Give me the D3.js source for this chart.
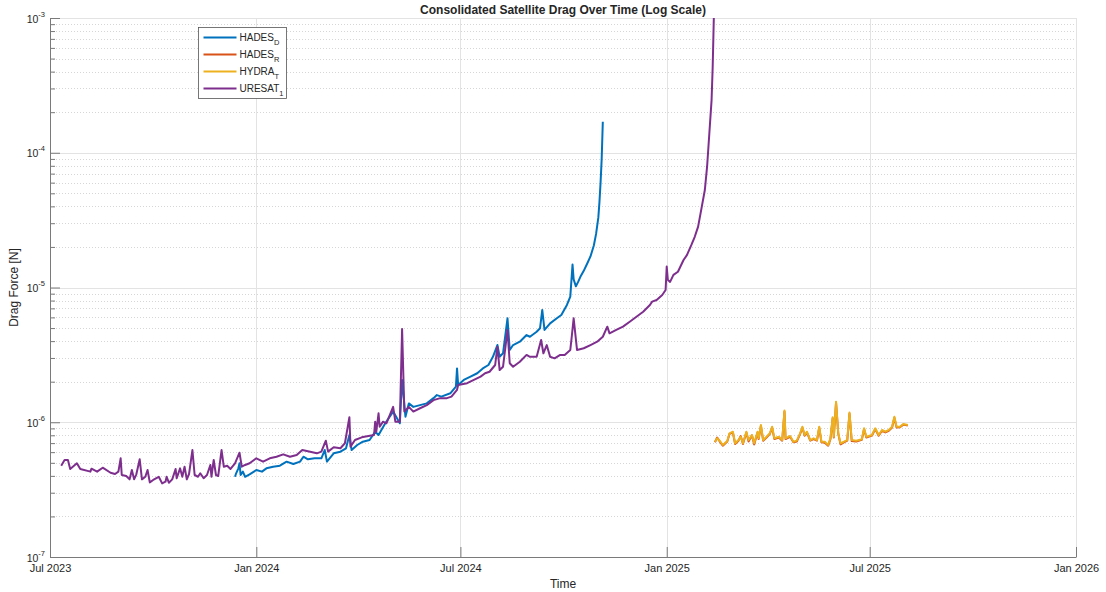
<!DOCTYPE html>
<html lang="en">
<head>
  <meta charset="UTF-8">
  <title>Consolidated Satellite Drag</title>
  <style>
    body { margin: 0; background: #fff; }
    text { font-family: "Liberation Sans", Arial, Helvetica, sans-serif; fill: #262626; }
  </style>
</head>
<body>

  <svg id="svg" width="1106" height="592"></svg>

  <script src="https://d3js.org/d3.v7.min.js"></script>
  <script>

    // days since 1 Jul 2023, and drag force [N]
    const uresatDay = [10, 13, 16, 18, 24, 27, 36, 37, 42, 47, 54, 58, 61, 63, 64, 68, 71, 73, 75, 77,
      80, 82, 85, 87, 89, 92, 97, 100, 103, 104, 106, 109, 112, 113, 116, 118, 120, 122, 124, 127,
      129, 132, 134, 137, 140, 143, 144, 146, 148, 150, 153, 155, 158, 161, 165, 169, 171, 174, 178, 184,
      190, 196, 202, 208, 214, 220, 225, 232, 238, 242, 246, 248, 253, 259, 263, 267, 268, 272, 278, 284,
      289, 290, 291, 293, 294, 297, 300, 306, 308, 312, 314, 316, 320, 324, 330, 336, 342, 348, 354, 358,
      363, 364, 372, 378, 384, 388, 392, 397, 399, 401, 404, 408, 410, 413, 419, 425, 428, 434, 438, 440,
      443, 446, 450, 455, 459, 464, 465, 467, 470, 476, 482, 488, 493, 497, 499, 505, 511, 517, 523, 529,
      535, 537, 541, 546, 549, 550, 551, 553, 556, 560, 565, 568, 572, 575, 578, 581, 584, 586, 588, 590,
      591, 592]
    const uresatDrag = [4.76e-7, 5.25e-7, 5.25e-7, 4.50e-7, 4.96e-7, 4.50e-7, 4.30e-7, 4.52e-7, 4.30e-7, 4.60e-7,
      4.22e-7, 4.13e-7, 4.30e-7, 5.40e-7, 4.06e-7, 3.99e-7, 3.77e-7, 4.42e-7, 3.77e-7, 4.11e-7,
      5.31e-7, 3.77e-7, 3.94e-7, 4.42e-7, 3.58e-7, 3.73e-7, 3.94e-7, 3.52e-7, 3.62e-7, 3.94e-7,
      3.56e-7, 3.77e-7, 4.50e-7, 3.84e-7, 4.55e-7, 3.94e-7, 4.68e-7, 3.77e-7, 4.13e-7, 6.22e-7,
      4.06e-7, 3.94e-7, 4.18e-7, 3.84e-7, 4.06e-7, 4.82e-7, 3.94e-7, 5.25e-7, 4.06e-7, 3.99e-7,
      6.22e-7, 4.68e-7, 4.76e-7, 4.50e-7, 4.96e-7, 5.94e-7, 4.68e-7, 4.82e-7, 4.96e-7, 5.40e-7,
      5.10e-7, 5.40e-7, 5.55e-7, 5.78e-7, 5.55e-7, 5.71e-7, 6.22e-7, 6.05e-7, 5.88e-7, 6.05e-7,
      7.30e-7, 6.05e-7, 6.52e-7, 6.41e-7, 6.98e-7, 1.09e-6, 6.59e-7, 7.38e-7, 7.73e-7, 7.91e-7,
      8.04e-7, 1.01e-6, 8.51e-7, 1.165e-6, 9.27e-7, 1.01e-6, 9.82e-7, 1.30e-6, 1.01e-6, 1.01e-6,
      4.92e-6, 1.20e-6, 1.30e-6, 1.20e-6, 1.27e-6, 1.34e-6, 1.46e-6, 1.51e-6, 1.51e-6, 1.55e-6,
      1.74e-6, 1.89e-6, 1.95e-6, 2.06e-6, 2.18e-6, 2.31e-6, 2.37e-6, 2.66e-6, 3.64e-6, 2.44e-6,
      2.58e-6, 4.84e-6, 2.74e-6, 2.58e-6, 2.81e-6, 3.16e-6, 3.06e-6, 3.06e-6, 4.08e-6, 3.25e-6,
      3.74e-6, 3.06e-6, 2.98e-6, 3.16e-6, 3.16e-6, 3.44e-6, 4.08e-6, 5.91e-6, 3.44e-6, 3.54e-6,
      3.74e-6, 3.96e-6, 4.31e-6, 5.12e-6, 4.57e-6, 4.84e-6, 5.12e-6, 5.57e-6, 6.07e-6, 6.61e-6,
      7.42e-6, 7.85e-6, 8.08e-6, 8.80e-6, 9.58e-6, 1.43e-5, 1.14e-5, 1.10e-5, 1.24e-5, 1.31e-5,
      1.60e-5, 1.74e-5, 2.07e-5, 2.38e-5, 2.83e-5, 3.87e-5, 5.29e-5, 7.88e-5, 1.39e-4, 2.46e-4,
      4.35e-4, 1.0e-3]

    const hadesDDay = [165, 166, 168, 169, 170, 172, 174, 178, 184, 189, 193, 199, 205, 211, 217, 223, 226, 230, 236, 242,
      245, 247, 253, 259, 264, 267, 269, 274, 279, 285, 290, 293, 299, 306, 312, 314, 317, 320, 324, 330,
      336, 342, 345, 349, 357, 362, 363, 364, 369, 375, 381, 386, 391, 395, 399, 401, 404, 408, 410, 413,
      419, 425, 428, 434, 437, 439, 441, 446, 452, 456, 461, 464, 466, 467, 469, 471, 473, 476, 479, 482,
      485, 487, 489, 490, 491, 492, 493]
    const hadesDDrag = [3.94e-7, 4.18e-7, 4.55e-7, 4.96e-7, 4.06e-7, 4.30e-7, 3.94e-7, 4.11e-7, 4.42e-7, 4.30e-7,
      4.55e-7, 4.68e-7, 4.76e-7, 5.10e-7, 4.90e-7, 5.10e-7, 5.55e-7, 5.31e-7, 5.40e-7, 5.40e-7,
      6.22e-7, 5.10e-7, 5.88e-7, 6.05e-7, 6.41e-7, 8.04e-7, 6.22e-7, 6.78e-7, 7.17e-7, 7.38e-7,
      8.51e-7, 8.04e-7, 9.82e-7, 1.20e-6, 9.82e-7, 2.06e-6, 1.10e-6, 1.38e-6, 1.30e-6, 1.34e-6,
      1.38e-6, 1.51e-6, 1.59e-6, 1.55e-6, 1.64e-6, 1.84e-6, 2.51e-6, 1.89e-6, 2.06e-6, 2.18e-6,
      2.31e-6, 2.51e-6, 2.66e-6, 3.06e-6, 3.74e-6, 3.06e-6, 3.25e-6, 5.91e-6, 3.44e-6, 3.74e-6,
      3.96e-6, 4.44e-6, 4.31e-6, 4.70e-6, 4.98e-6, 6.81e-6, 4.84e-6, 5.42e-6, 5.91e-6, 6.25e-6,
      7.42e-6, 8.55e-6, 1.48e-5, 1.15e-5, 1.02e-5, 1.10e-5, 1.20e-5, 1.33e-5, 1.50e-5, 1.70e-5,
      2.05e-5, 2.50e-5, 3.30e-5, 4.30e-5, 6.00e-5, 9.00e-5, 1.70e-4]

    const hydraDay = [593, 595, 598, 600, 604, 606, 609, 611, 614, 616, 618, 621, 623, 626, 628, 631, 632, 634, 636, 639,
      642, 644, 646, 650, 653, 655, 656, 660, 663, 666, 669, 671, 673, 675, 678, 681, 684, 686, 688, 691,
      694, 696, 698, 699, 701, 703, 705, 708, 711, 713, 715, 719, 724, 726, 728, 733, 736, 739, 742, 745,
      748, 751, 753, 755, 758, 761, 765]
    const hydraDrag = [7.17e-7, 7.60e-7, 7.17e-7, 6.78e-7, 7.26e-7, 8.28e-7, 8.51e-7, 6.98e-7, 7.38e-7, 7.81e-7,
      6.98e-7, 8.51e-7, 7.38e-7, 8.04e-7, 6.98e-7, 8.51e-7, 7.60e-7, 9.54e-7, 7.38e-7, 7.81e-7,
      8.28e-7, 9.27e-7, 7.60e-7, 7.81e-7, 7.38e-7, 1.22e-6, 7.60e-7, 7.91e-7, 7.17e-7, 7.30e-7,
      8.28e-7, 9.27e-7, 8.04e-7, 8.51e-7, 7.38e-7, 7.60e-7, 7.38e-7, 9.27e-7, 7.17e-7, 7.17e-7,
      6.78e-7, 7.60e-7, 1.09e-6, 7.81e-7, 1.42e-6, 8.28e-7, 6.98e-7, 7.17e-7, 7.38e-7, 1.18e-6,
      7.38e-7, 7.30e-7, 7.47e-7, 9.02e-7, 7.81e-7, 8.04e-7, 9.02e-7, 8.04e-7, 8.76e-7, 8.51e-7,
      8.76e-7, 9.27e-7, 1.10e-6, 9.27e-7, 9.27e-7, 9.71e-7, 9.54e-7]

    const hadesRDay = [593, 595, 598, 600, 604, 606, 609, 611, 614, 616, 618, 621, 623, 626, 628, 631, 632, 634, 636, 639,
      642, 644, 646, 650, 653, 655, 656, 660, 663, 666, 669, 671, 673, 675, 678, 681, 684, 686, 688, 691,
      694, 696, 698, 699, 701, 703, 705, 708, 711, 713, 715, 719, 724, 726, 728, 733, 736, 739, 742, 745,
      748, 751, 753, 755, 758, 761, 765]
    const hadesRDrag = [7.10e-7, 7.70e-7, 7.05e-7, 6.70e-7, 7.20e-7, 8.20e-7, 8.40e-7, 6.90e-7, 7.30e-7, 7.90e-7,
      6.90e-7, 8.40e-7, 7.20e-7, 8.00e-7, 6.85e-7, 8.40e-7, 7.50e-7, 9.40e-7, 7.30e-7, 7.70e-7,
      8.20e-7, 9.10e-7, 7.50e-7, 7.70e-7, 7.30e-7, 1.20e-6, 7.50e-7, 7.80e-7, 7.10e-7, 7.20e-7,
      8.20e-7, 9.10e-7, 7.95e-7, 8.40e-7, 7.30e-7, 7.50e-7, 7.30e-7, 9.10e-7, 7.10e-7, 7.05e-7,
      6.70e-7, 7.50e-7, 1.07e-6, 7.70e-7, 1.40e-6, 8.20e-7, 6.85e-7, 7.10e-7, 7.30e-7, 1.16e-6,
      7.25e-7, 7.20e-7, 7.40e-7, 8.90e-7, 7.70e-7, 7.95e-7, 8.90e-7, 7.95e-7, 8.65e-7, 8.40e-7,
      8.65e-7, 9.15e-7, 1.08e-6, 9.15e-7, 9.20e-7, 9.60e-7, 9.45e-7]

    const xTickDates = ['2023-07-01', '2024-01-01', '2024-07-01', '2025-01-01', '2025-07-01', '2026-01-01']
    const xTickLabels = ['Jul 2023', 'Jan 2024', 'Jul 2024', 'Jan 2025', 'Jul 2025', 'Jan 2026']
    const yTickExps = [-7, -6, -5, -4, -3]

    const seriesNames = ['HADES', 'HADES', 'HYDRA', 'URESAT']
    const seriesSubs = ['D', 'R', 'T', '1']
    const seriesColors = ['#0072BD', '#D95319', '#EDB120', '#7E2F8E']

    const parse = d3.utcParse('%Y-%m-%d')
    const start = parse('2023-07-01')
    const toPoints = (days, vals) => days.map((d, i) => ({ date: d3.utcDay.offset(start, d), v: vals[i] }))

    const series = [
      toPoints(hadesDDay, hadesDDrag),
      toPoints(hadesRDay, hadesRDrag),
      toPoints(hydraDay, hydraDrag),
      toPoints(uresatDay, uresatDrag)
    ]

    const plotLeft = 50, plotRight = 1076, plotTop = 18, plotBottom = 557

    const xScale = d3.scaleUtc()
      .domain([parse('2023-07-01'), parse('2026-01-01')])
      .range([plotLeft, plotRight])

    const yScale = d3.scaleLog()
      .domain([1e-7, 1e-3])
      .range([plotBottom, plotTop])

    const svg = d3.select('#svg')

    // minor log values 2..9 in each decade
    const minorVals = []
    yTickExps.slice(0, -1).forEach(e => {
      for (let k = 2; k <= 9; k++) minorVals.push(k * Math.pow(10, e))
    })
    const majorVals = yTickExps.map(e => Math.pow(10, e))
    const xTicks = xTickDates.map(parse)

    // grid
    const grid = svg.append('g')
    grid.selectAll('.ymin')
      .data(minorVals)
      .enter()
      .append('line')
      .attr('x1', plotLeft).attr('x2', plotRight)
      .attr('y1', d => Math.round(yScale(d)) + 0.5)
      .attr('y2', d => Math.round(yScale(d)) + 0.5)
      .attr('stroke', '#d6d6d6')
      .attr('stroke-dasharray', '1,2')
    grid.selectAll('.ymaj')
      .data(majorVals)
      .enter()
      .append('line')
      .attr('x1', plotLeft).attr('x2', plotRight)
      .attr('y1', d => Math.round(yScale(d)) + 0.5)
      .attr('y2', d => Math.round(yScale(d)) + 0.5)
      .attr('stroke', '#e3e3e3')
    grid.selectAll('.xmaj')
      .data(xTicks)
      .enter()
      .append('line')
      .attr('y1', plotTop).attr('y2', plotBottom)
      .attr('x1', d => Math.round(xScale(d)) + 0.5)
      .attr('x2', d => Math.round(xScale(d)) + 0.5)
      .attr('stroke', '#e3e3e3')

    // lines
    const line = d3.line()
      .x(d => xScale(d.date))
      .y(d => yScale(d.v))

    svg.append('g')
      .selectAll('path')
      .data(series)
      .enter()
      .append('path')
      .attr('d', line)
      .attr('fill', 'none')
      .attr('stroke', (d, i) => seriesColors[i])
      .attr('stroke-width', 2)
      .attr('stroke-linejoin', 'round')

    // axes
    const xAxis = svg.append('g')
      .attr('transform', `translate(0,${plotBottom})`)
      .call(d3.axisBottom(xScale)
        .tickValues(xTicks)
        .tickSizeInner(-10)
        .tickSizeOuter(0)
        .tickPadding(7)
        .tickFormat((d, i) => xTickLabels[i]))
    xAxis.select('.domain').attr('stroke', '#7a7a7a')
    xAxis.selectAll('.tick line').attr('stroke', '#7a7a7a')
    xAxis.selectAll('.tick text')
      .attr('font-size', 11)
      .attr('fill', '#262626')

    const yMinor = svg.append('g')
      .attr('transform', `translate(${plotLeft},0)`)
      .call(d3.axisLeft(yScale).tickValues(minorVals).tickSizeInner(-5).tickSizeOuter(0).tickFormat(''))
    yMinor.select('.domain').remove()
    yMinor.selectAll('.tick line').attr('stroke', '#7a7a7a')

    const yAxis = svg.append('g')
      .attr('transform', `translate(${plotLeft},0)`)
      .call(d3.axisLeft(yScale).tickValues(majorVals).tickSizeInner(-10).tickSizeOuter(0).tickFormat(''))
    yAxis.select('.domain').attr('stroke', '#7a7a7a')
    yAxis.selectAll('.tick line').attr('stroke', '#7a7a7a')

    const yLab = yAxis.selectAll('.tick')
      .append('text')
      .attr('x', -5)
      .attr('y', 4)
      .attr('text-anchor', 'end')
      .attr('font-size', 10.5)
      .attr('fill', '#262626')
    yLab.append('tspan').text('10')
    yLab.append('tspan')
      .attr('dy', -6)
      .attr('font-size', 7.5)
      .text((d, i) => yTickExps[i])

    // titles
    svg.append('text')
      .attr('x', 563).attr('y', 14)
      .attr('text-anchor', 'middle')
      .attr('font-size', 12)
      .attr('font-weight', 'bold')
      .attr('fill', '#000')
      .text('Consolidated Satellite Drag Over Time (Log Scale)')

    svg.append('text')
      .attr('x', 563).attr('y', 588)
      .attr('text-anchor', 'middle')
      .attr('font-size', 12)
      .text('Time')

    svg.append('text')
      .attr('transform', `translate(18,${(plotTop + plotBottom) / 2}) rotate(-90)`)
      .attr('text-anchor', 'middle')
      .attr('font-size', 12)
      .text('Drag Force [N]')

    // legend
    const legend = svg.append('g').attr('transform', 'translate(198.5,27.5)')
    legend.append('rect')
      .attr('width', 88).attr('height', 71)
      .attr('fill', '#fff')
      .attr('stroke', '#555')
      .attr('stroke-width', 0.8)

    const rows = legend.selectAll('.row')
      .data(seriesNames)
      .enter()
      .append('g')
      .attr('transform', (d, i) => `translate(0,${10 + i * 17})`)
    rows.append('line')
      .attr('x1', 5).attr('x2', 38)
      .attr('stroke', (d, i) => seriesColors[i])
      .attr('stroke-width', 2)
    const lt = rows.append('text')
      .attr('x', 41).attr('y', 3.5)
      .attr('font-size', 10)
    lt.append('tspan').text(d => d)
    lt.append('tspan')
      .attr('dy', 4)
      .attr('font-size', 7.5)
      .text((d, i) => seriesSubs[i])

  </script>
</body>
</html>
